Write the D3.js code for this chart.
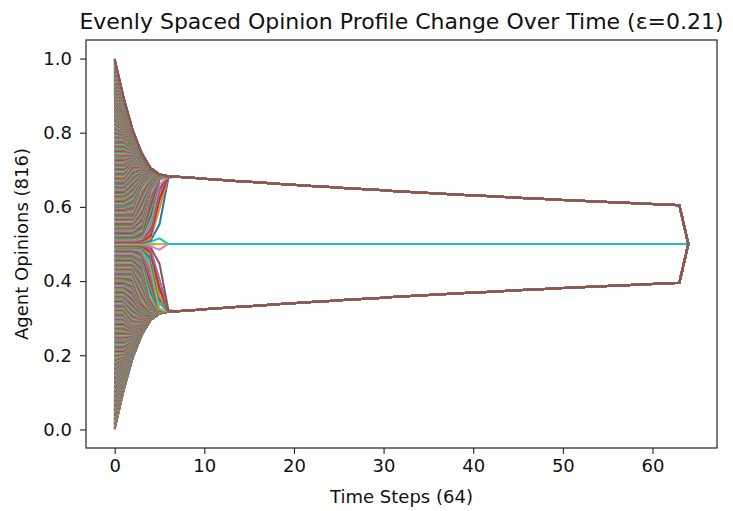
<!DOCTYPE html>
<html>
<head>
<meta charset="utf-8">
<script src="https://cdn.jsdelivr.net/npm/d3@7"></script>
<style>
  body { margin: 0; background: #fff; }
  text { font-family: "DejaVu Sans", sans-serif; fill: #111; }
</style>
</head>
<body>
<svg id="canvas" width="733" height="511"></svg>
<script>
// values read from the title / axis labels
const agentCount = 816;      // "Agent Opinions (816)"
const epsilon = 0.21;        // ε in the title
const stepCount = 64;        // "Time Steps (64)"
const opinionMin = 0;        // evenly spaced start, 0 .. 1
const opinionMax = 1;

// tick labels
const xTicks = [0, 10, 20, 30, 40, 50, 60];
const yTicks = [0, 0.2, 0.4, 0.6, 0.8, 1.0];
const yTickLabels = ['0.0', '0.2', '0.4', '0.6', '0.8', '1.0'];

// matplotlib tab10 cycle
const palette = ['#1f77b4', '#ff7f0e', '#2ca02c', '#d62728', '#9467bd',
                 '#8c564b', '#e377c2', '#7f7f7f', '#bcbd22', '#17becf'];

// bounded confidence run: every agent moves to the mean of everyone within ε
let start = d3.range(agentCount).map(i => opinionMin + (opinionMax - opinionMin) * i / (agentCount - 1));
let history = [start];
for (let t = 1; t <= stepCount; t++) {
    let prev = history[t - 1];
    let next = prev.map(xi => {
        let sum = 0, count = 0;
        for (let j = 0; j < prev.length; j++) {
            if (Math.abs(prev[j] - xi) <= epsilon) { sum += prev[j]; count++; }
        }
        return sum / count;
    });
    history.push(next);
}
let agents = d3.range(agentCount).map(i => history.map((state, t) => ({t: t, v: state[i]})));

// layout
let svg = d3.select('#canvas');
let plotLeft = 86, plotRight = 717, plotTop = 40, plotBottom = 448;

let x = d3.scaleLinear().domain([-3.2, 67.2]).range([plotLeft, plotRight]);
let y = d3.scaleLinear().domain([-0.05, 1.05]).range([plotBottom, plotTop]);

svg.append('clipPath').attr('id', 'plotArea')
    .append('rect')
    .attr('x', plotLeft).attr('y', plotTop)
    .attr('width', plotRight - plotLeft).attr('height', plotBottom - plotTop);

let line = d3.line()
    .x(d => x(d.t))
    .y(d => y(d.v));

svg.append('g')
    .attr('clip-path', 'url(#plotArea)')
    .selectAll('path')
    .data(agents)
    .enter()
    .append('path')
    .attr('d', line)
    .attr('fill', 'none')
    .attr('stroke', (d, i) => palette[i % 10])
    .attr('stroke-width', 2);

// axes
let xAxis = svg.append('g')
    .attr('transform', `translate(0,${plotBottom})`)
    .call(d3.axisBottom(x).tickValues(xTicks).tickSize(6).tickPadding(5));
let yAxis = svg.append('g')
    .attr('transform', `translate(${plotLeft},0)`)
    .call(d3.axisLeft(y).tickValues(yTicks).tickFormat((d, i) => yTickLabels[i]).tickSize(6).tickPadding(8));

[xAxis, yAxis].forEach(g => {
    g.select('.domain').remove();
    g.selectAll('.tick line').attr('stroke', '#222').attr('stroke-width', 1.1);
    g.selectAll('.tick text').attr('font-size', 18).attr('font-family', '"DejaVu Sans", sans-serif').attr('fill', '#111');
});

svg.append('rect')
    .attr('x', plotLeft).attr('y', plotTop)
    .attr('width', plotRight - plotLeft).attr('height', plotBottom - plotTop)
    .attr('fill', 'none')
    .attr('stroke', '#222')
    .attr('stroke-width', 1.2);

// texts
svg.append('text')
    .attr('x', (plotLeft + plotRight) / 2).attr('y', 29)
    .attr('text-anchor', 'middle')
    .attr('font-size', 22)
    .text('Evenly Spaced Opinion Profile Change Over Time (ε=0.21)');

svg.append('text')
    .attr('x', (plotLeft + plotRight) / 2).attr('y', 503)
    .attr('text-anchor', 'middle')
    .attr('font-size', 18)
    .text('Time Steps (64)');

svg.append('text')
    .attr('transform', `translate(28,${(plotTop + plotBottom) / 2}) rotate(-90)`)
    .attr('text-anchor', 'middle')
    .attr('font-size', 18)
    .text('Agent Opinions (816)');
</script>
</body>
</html>
